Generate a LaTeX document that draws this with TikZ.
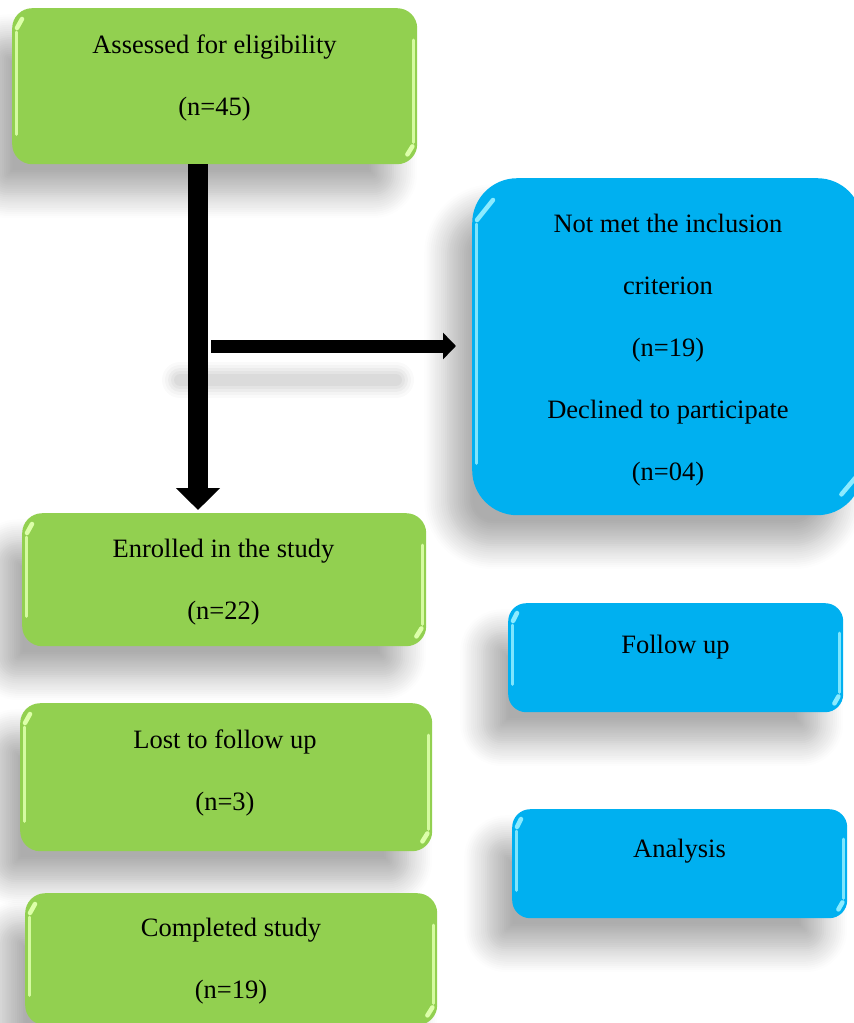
\documentclass[tikz,border=0pt]{standalone}
\usepackage{fontspec}
\setmainfont{Liberation Serif}
\usetikzlibrary{shadows.blur,arrows.meta,calc}
\definecolor{gfill}{HTML}{92D050}
\definecolor{bfill}{HTML}{00B0F0}
\definecolor{ghl}{HTML}{DDFFAA}
\definecolor{bhl}{HTML}{8CEBFF}
\newcommand\glossbox[3]{%
  \draw[#2, line width=3pt, line cap=round, opacity=0.9] ($(#1.north west)+(4,#3+4)$) -- ($(#1.south west)+(4,-#3-10)$);
  \draw[#2, line width=4.5pt, line cap=round] ($(#1.north west)+(5,#3)$) -- ($(#1.north west)+(#3/2,#3/2+1)$);
  \draw[#2, line width=3pt, line cap=round, opacity=0.9] ($(#1.north east)+(-4,#3+12)$) -- ($(#1.south east)+(-4,-#3-2)$);
  \draw[#2, line width=4.5pt, line cap=round] ($(#1.south east)+(-5,-#3+2)$) -- ($(#1.south east)+(-#3/2,-#3/2)$);
}
\tikzset{
  boxbase/.style={inner sep=0pt, anchor=north west, rounded corners=20pt,
    blur shadow={shadow xshift=-24pt, shadow yshift=-30pt, shadow blur radius=24pt, shadow blur steps=12, shadow opacity=32}},
  gbox/.style={boxbase, fill=gfill},
  bbox/.style={boxbase, fill=bfill},
  txt/.style={font=\fontsize{26.5}{62}\selectfont, align=center, anchor=base, inner sep=0pt},
  arrowline/.style={draw=black},
}
\begin{document}
\begin{tikzpicture}[x=1pt,y=-1pt]
\useasboundingbox (0,0) rectangle (854,1023);
% arrow shadow
\coordinate (hsa) at (180,380);
\coordinate (hsb) at (396,380);
\foreach \w/\o in {36/0.02,30/0.025,24/0.03,18/0.035,12/0.04}{
  \draw[black, line width=\w pt, line cap=round, opacity=\o] (hsa) -- (hsb);
}
% boxes
\node[gbox, minimum width=405pt, minimum height=156pt] (b1) at (12,8) {};
\node[bbox, rounded corners=45pt, minimum width=390pt, minimum height=337pt] (b2) at (472,178) {};
\node[gbox, minimum width=404pt, minimum height=133pt] (b3) at (22,513) {};
\node[gbox, minimum width=412pt, minimum height=148pt] (b4) at (20,703) {};
\node[gbox, minimum width=412pt, minimum height=132pt] (b5) at (25,893) {};
\node[bbox, rounded corners=18pt, minimum width=335pt, minimum height=109pt] (b6) at (508,603) {};
\node[bbox, rounded corners=18pt, minimum width=335pt, minimum height=109pt] (b7) at (512,809) {};
% gloss
\glossbox{b1}{ghl}{20}
\glossbox{b2}{bhl}{42}
\glossbox{b3}{ghl}{20}
\glossbox{b4}{ghl}{20}
\glossbox{b5}{ghl}{20}
\glossbox{b6}{bhl}{18}
\glossbox{b7}{bhl}{18}
% texts (base anchor = last line)
\node[txt] (t1) at (214.5,115) {Assessed for eligibility\\(n=45)};
\node[txt] (t2) at (668,480) {Not met the inclusion\\criterion\\(n=19)\\Declined to participate\\(n=04)};
\node[txt] (t3) at (223.5,619) {Enrolled in the study\\(n=22)};
\node[txt] (t4) at (225,810) {Lost to follow up\\(n=3)};
\node[txt] (t5) at (231,998) {Completed study\\(n=19)};
\node[txt] (t6) at (675.5,653) {Follow up};
\node[txt] (t7) at (679.5,857) {Analysis};
% arrows
\coordinate (vtip) at (198,510);
\coordinate (hstart) at (211,346);
\coordinate (hend) at (456,346);
\draw[arrowline, line width=20pt, -{Triangle[width=43pt,length=22pt]}] (b1.south -| vtip) -- (vtip);
\draw[arrowline, line width=13pt, -{Triangle[width=26pt,length=13pt]}] (hstart) -- (hend);
\end{tikzpicture}
\end{document}
